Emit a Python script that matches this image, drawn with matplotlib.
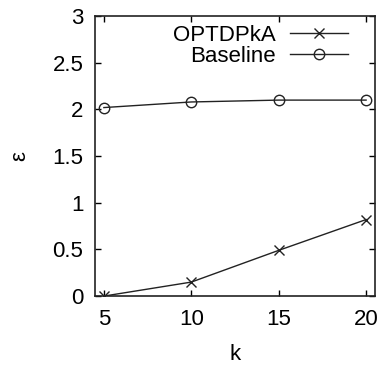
import matplotlib
matplotlib.use("Agg")
import matplotlib.pyplot as plt

# data
k = [5, 10, 15, 20]
optdpka = [0.0, 0.15, 0.49, 0.82]
baseline = [2.02, 2.08, 2.10, 2.10]

plt.rcParams["font.family"] = ["Liberation Sans", "DejaVu Sans"]
FS = 16

fig = plt.figure(figsize=(3.79, 3.66), dpi=100)
ax = fig.add_axes([0.251, 0.191, 0.738, 0.765])

ax.plot(k, optdpka, color="#222222", lw=1.0, marker="x", ms=7.5, mew=1.0,
        label="OPTDPkA")
ax.plot(k, baseline, color="#222222", lw=1.0, marker="o", ms=7.5, mew=1.0,
        mfc="none", label="Baseline")

ax.set_xlim(4.5, 20.5)
ax.set_ylim(0, 3)
ax.set_xticks([5, 10, 15, 20])
ax.set_yticks([0, 0.5, 1, 1.5, 2, 2.5, 3])
ax.set_yticklabels(["0", "0.5", "1", "1.5", "2", "2.5", "3"])
ax.tick_params(direction="in", top=True, right=True, length=4.5, width=1,
               labelsize=FS)
ax.tick_params(axis="x", pad=9.5)
ax.tick_params(axis="y", pad=8.5)
for s in ax.spines.values():
    s.set_linewidth(1.2)
    s.set_color("#222222")

ax.set_xlabel("k", fontsize=FS, labelpad=10)
ax.set_ylabel("ε", fontsize=FS, labelpad=16)

ax.legend(loc="upper right", frameon=False, markerfirst=False, fontsize=FS,
          handlelength=2.6, handletextpad=0.65, labelspacing=0.0,
          borderaxespad=0.0, bbox_to_anchor=(0.936, 1.0))

fig.savefig("out.png", dpi=100)
